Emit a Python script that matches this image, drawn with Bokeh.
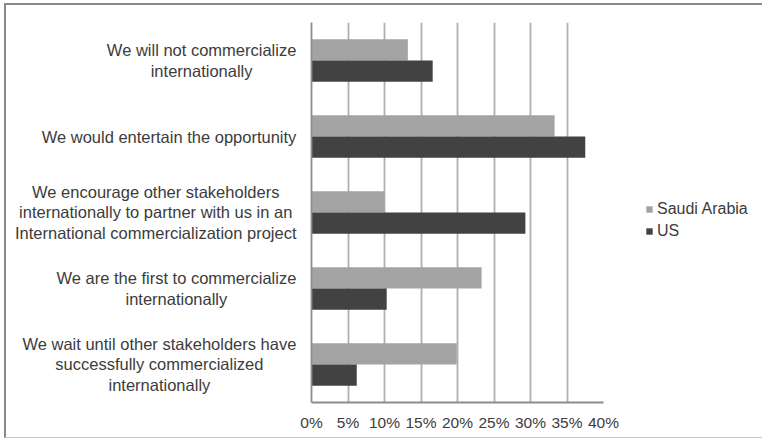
from bokeh.plotting import figure
from bokeh.layouts import row
from bokeh.models import (ColumnDataSource, FactorRange, Range1d, FixedTicker,
                          PrintfTickFormatter, Legend, LegendItem)
from bokeh.core.properties import value
from bokeh.transform import dodge
from bokeh.embed import file_html
from bokeh.resources import INLINE

# ---- data ----
categories = [
    "We will not commercialize\ninternationally",
    "We would entertain the opportunity",
    "We encourage other stakeholders\ninternationally to partner with us in an\nInternational commercialization project",
    "We are the first to commercialize\ninternationally",
    "We wait until other stakeholders have\nsuccessfully commercialized\ninternationally",
]
saudi_arabia = [13.2, 33.3, 10.0, 23.3, 19.9]
us = [16.6, 37.5, 29.3, 10.3, 6.2]
x_ticks = [0, 5, 10, 15, 20, 25, 30, 35, 40]
series_names = ["Saudi Arabia", "US"]

# ---- styling / layout ----
FONT = "Liberation Sans"
TEXT = "#3c3c3c"
C_SA = "#a3a3a3"
C_US = "#424242"
LABEL_SIZE = 16.5

OFF_X = 6            # row inset (margin + border)
OFF_Y = 5
H = 432
TOP = 22 - OFF_Y
FRAME_H = 380
BOTTOM = H - TOP - FRAME_H
MAIN_LB = 12
W_LEFT = 311 - MAIN_LB - OFF_X
MAIN_RB = 20
FRAME_W = 292
W_MAIN = MAIN_LB + FRAME_W + MAIN_RB
W_RIGHT = 762 - OFF_X - W_LEFT - W_MAIN

# Arial / Liberation Sans advance widths (1/1000 em) to centre multi-line labels
ARIAL = {' ': 278, 'W': 944, 'I': 278, 'a': 556, 'b': 556, 'c': 500, 'd': 556, 'e': 556,
         'f': 278, 'g': 556, 'h': 556, 'i': 222, 'j': 222, 'k': 500, 'l': 222, 'm': 833,
         'n': 556, 'o': 556, 'p': 556, 'r': 333, 's': 500, 't': 278, 'u': 556, 'v': 500,
         'w': 722, 'y': 500, 'z': 500}


def text_width(s, size):
    return sum(ARIAL.get(ch, 556) for ch in s) * size / 1000.0


GAP = 15 - MAIN_LB   # label block ends 15px left of the value axis
offsets = [-(GAP + max(text_width(line, LABEL_SIZE) for line in c.split("\n")) / 2.0)
           for c in categories]

source = ColumnDataSource(dict(cat=categories, sa=saudi_arabia, us=us,
                               x0=[0] * len(categories), off=offsets))

# ---- main chart ----
p = figure(width=W_MAIN, height=H, output_backend="svg", toolbar_location=None,
           y_range=FactorRange(factors=list(reversed(categories))),
           x_range=Range1d(0, 40),
           min_border_left=MAIN_LB, min_border_right=MAIN_RB,
           min_border_top=TOP, min_border_bottom=BOTTOM)

r_sa = p.hbar(y=dodge("cat", 0.14, range=p.y_range), right="sa", left=0, height=0.28,
              source=source, fill_color=C_SA, line_color=None)
r_us = p.hbar(y=dodge("cat", -0.14, range=p.y_range), right="us", left=0, height=0.28,
              source=source, fill_color=C_US, line_color=None)

p.outline_line_color = None
p.xgrid.ticker = FixedTicker(ticks=x_ticks)
p.xgrid.grid_line_color = "#b0b0b0"
p.xgrid.grid_line_width = 1.8
p.ygrid.grid_line_color = None

p.xaxis.ticker = FixedTicker(ticks=x_ticks)
p.xaxis.formatter = PrintfTickFormatter(format="%d%%")
p.xaxis.axis_line_color = "#8c8c8c"
p.xaxis.axis_line_width = 1.8
p.xaxis.major_tick_line_color = None
p.xaxis.minor_tick_line_color = None
p.xaxis.major_label_text_font = FONT
p.xaxis.major_label_text_font_size = "15.5px"
p.xaxis.major_label_text_color = TEXT
p.xaxis.major_label_standoff = 5

p.yaxis.axis_line_color = "#8c8c8c"
p.yaxis.axis_line_width = 1.8
p.yaxis.major_tick_line_color = None
p.yaxis.minor_tick_line_color = None
p.yaxis.major_tick_out = 0
p.yaxis.major_label_standoff = 0
p.yaxis.major_label_text_font_size = "0px"

# ---- category labels (centred lines, right-aligned block) ----
left = figure(width=W_LEFT, height=H, output_backend="svg", toolbar_location=None,
              y_range=p.y_range, x_range=Range1d(-W_LEFT, 0),
              x_axis_type=None, y_axis_type=None,
              min_border_left=0, min_border_right=0,
              min_border_top=TOP, min_border_bottom=BOTTOM)
left.outline_line_color = None
left.grid.grid_line_color = None
left.text(x="x0", y="cat", text="cat", x_offset="off", source=source,
          text_align="center", text_baseline="middle",
          text_font=value(FONT), text_font_size=value(f"{LABEL_SIZE}px"), text_color=TEXT,
          text_line_height=1.15)

# ---- legend panel ----
right = figure(width=W_RIGHT, height=H, output_backend="svg", toolbar_location=None,
               x_range=Range1d(0, 1), y_range=Range1d(0, 1),
               x_axis_type=None, y_axis_type=None,
               min_border_left=0, min_border_right=0, min_border_top=0, min_border_bottom=0)
right.outline_line_color = None
right.grid.grid_line_color = None
# legend swatches (kept out of the visible range)
l_sa = right.hbar(y=[-9], left=[-9], right=[-8], height=0.1, fill_color=C_SA, line_color=None)
l_us = right.hbar(y=[-9], left=[-9], right=[-8], height=0.1, fill_color=C_US, line_color=None)
legend = Legend(items=[LegendItem(label=series_names[0], renderers=[l_sa]),
                       LegendItem(label=series_names[1], renderers=[l_us])],
                location=(645 - (762 - W_RIGHT), H - (240 - OFF_Y) - 36), orientation="vertical",
                glyph_width=8, glyph_height=8, label_standoff=4, spacing=2,
                padding=0, margin=0, border_line_color=None, background_fill_alpha=0,
                label_text_font=FONT, label_text_font_size="16px", label_text_color=TEXT,
                label_height=20)
right.add_layout(legend)

layout = row(left, p, right)
layout.styles = {"border-left": "2px solid #8a8a8a", "border-top": "2px solid #8a8a8a",
                 "border-bottom": "1px solid #c4c4c4",
                 "margin-left": f"{OFF_X - 2}px", "margin-top": f"{OFF_Y - 2}px"}

open("out.html", "w").write(file_html(layout, INLINE))
